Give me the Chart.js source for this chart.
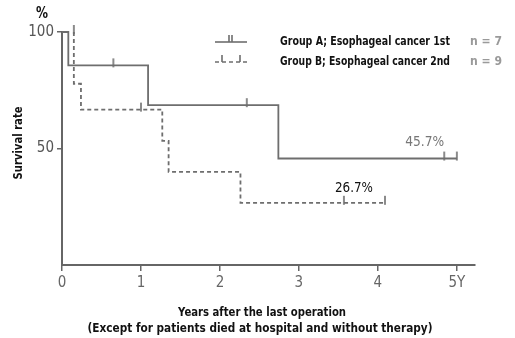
<!DOCTYPE html>
<html>
<head>
<meta charset="utf-8">
<script src="https://cdn.jsdelivr.net/npm/chart.js@4/dist/chart.umd.min.js"></script>
<style>
  html, body { margin: 0; padding: 0; background: #fff; }
  #wrap { width: 515px; height: 338px; }
</style>
</head>
<body>
<div id="wrap"><canvas id="c" width="515" height="338"></canvas></div>
<script>
// Survival curves after the last operation (years, % surviving)
const groupATimes  = [0, 0.08, 1.09, 2.74, 5.0];
const groupAValues = [100, 85.7, 68.6, 45.7, 45.7];
const groupACensorTimes  = [0.65, 2.34, 4.84, 5.0];
const groupACensorValues = [85.7, 68.6, 45.7, 45.7];

const groupBTimes  = [0.15, 0.15, 0.24, 1.27, 1.35, 2.26, 4.09];
const groupBValues = [100, 77.8, 66.7, 53.3, 40.0, 26.7, 26.7];
const groupBCensorTimes  = [0.15, 1.0, 3.57, 4.09];
const groupBCensorValues = [100, 66.7, 26.7, 26.7];

const xTickLabels = ['0', '1', '2', '3', '4', '5Y'];
const yTickValues = [50, 100];
const legendLabels = ['Group A; Esophageal cancer 1st', 'Group B; Esophageal cancer 2nd'];
const groupSizes = ['n = 7', 'n = 9'];

const LINE = '#6e6e6e';
const AXIS = '#666';
const CONDENSED = "'DejaVu Sans Condensed', 'Liberation Sans Narrow', 'DejaVu Sans', sans-serif";
const BOLD = "bold 12px 'DejaVu Sans', sans-serif";

function toPoints(xs, ys) { return xs.map((x, i) => ({ x, y: ys[i] })); }

// small upward tick used to mark censored cases
function censorMark(color) {
  const c = document.createElement('canvas');
  c.width = 4; c.height = 20;
  const g = c.getContext('2d');
  g.strokeStyle = color; g.lineWidth = 1.6;
  g.beginPath(); g.moveTo(2, 3); g.lineTo(2, 12); g.stroke();
  return c;
}
const tick = censorMark(LINE);

// text squeezed to a given width, for the narrow lettering of the figure
function fitText(ctx, text, x, y, width, font, color, align, rotate) {
  ctx.save();
  ctx.font = font;
  ctx.fillStyle = color;
  ctx.textBaseline = 'middle';
  ctx.textAlign = 'left';
  const w = ctx.measureText(text).width;
  const k = width / w;
  ctx.translate(x, y);
  if (rotate) ctx.rotate(rotate);
  let x0 = 0;
  if (align === 'center') x0 = -width / 2;
  else if (align === 'right') x0 = -width;
  ctx.translate(x0, 0);
  ctx.scale(k, 1);
  ctx.fillText(text, 0, 0);
  ctx.restore();
}

const annotations = {
  id: 'annotations',
  afterDraw(chart) {
    const ctx = chart.ctx;
    const xs = chart.scales.x, ys = chart.scales.y;

    // unit above the y axis and the rotated axis title
    fitText(ctx, '%', 42, 14, 12, "bold 16px 'DejaVu Sans', sans-serif", '#111', 'center');
    fitText(ctx, 'Survival rate', 19, 143, 73, BOLD, '#111', 'center', -Math.PI / 2);

    // x axis title, two lines
    fitText(ctx, 'Years after the last operation', 262, 313, 168, BOLD, '#111', 'center');
    fitText(ctx, '(Except for patients died at hospital and without therapy)', 260, 329, 345, BOLD, '#111', 'center');

    // legend: line samples with censor ticks
    ctx.save();
    ctx.strokeStyle = LINE; ctx.lineWidth = 1.6;
    ctx.beginPath(); ctx.moveTo(215, 42); ctx.lineTo(247, 42); ctx.stroke();
    ctx.beginPath(); ctx.moveTo(229, 35); ctx.lineTo(229, 42); ctx.moveTo(232, 35); ctx.lineTo(232, 42); ctx.stroke();
    ctx.setLineDash([4, 3]);
    ctx.beginPath(); ctx.moveTo(215, 62); ctx.lineTo(247, 62); ctx.stroke();
    ctx.setLineDash([]);
    ctx.beginPath(); ctx.moveTo(222, 55); ctx.lineTo(222, 62); ctx.moveTo(240, 55); ctx.lineTo(240, 62); ctx.stroke();
    ctx.restore();
    fitText(ctx, legendLabels[0], 280, 42, 170, BOLD, '#111', 'left');
    fitText(ctx, legendLabels[1], 280, 62, 170, BOLD, '#111', 'left');
    ctx.save(); ctx.filter = 'blur(0.6px)';
    fitText(ctx, groupSizes[0], 470, 42, 32, BOLD, '#9a9a9a', 'left');
    fitText(ctx, groupSizes[1], 470, 62, 32, BOLD, '#9a9a9a', 'left');
    ctx.restore();

    // final survival rates written above the curve tails
    const aLast = groupAValues[groupAValues.length - 1];
    const bLast = groupBValues[groupBValues.length - 1];
    const aX = xs.getPixelForValue(groupACensorTimes[groupACensorTimes.length - 2]);
    const bX = xs.getPixelForValue(groupBCensorTimes[groupBCensorTimes.length - 2]);
    fitText(ctx, aLast.toFixed(1) + '%', aX, ys.getPixelForValue(aLast) - 16, 39,
      "14px 'DejaVu Sans', sans-serif", '#777', 'right');
    fitText(ctx, bLast.toFixed(1) + '%', bX + 10, ys.getPixelForValue(bLast) - 14, 38,
      "14px 'DejaVu Sans', sans-serif", '#111', 'center');
  }
};

new Chart(document.getElementById('c'), {
  type: 'line',
  data: {
    datasets: [
      {
        label: legendLabels[0],
        data: toPoints(groupATimes, groupAValues),
        borderColor: LINE, borderWidth: 1.8, stepped: true,
        pointRadius: 0, fill: false, clip: false
      },
      {
        label: legendLabels[1],
        data: toPoints(groupBTimes, groupBValues),
        borderColor: LINE, borderWidth: 1.8, borderDash: [4, 3], stepped: true,
        pointRadius: 0, fill: false, clip: false
      },
      {
        type: 'scatter',
        data: toPoints(groupACensorTimes, groupACensorValues),
        pointStyle: tick, pointRadius: 5, clip: false, showLine: false
      },
      {
        type: 'scatter',
        data: toPoints(groupBCensorTimes, groupBCensorValues),
        pointStyle: tick, pointRadius: 5, clip: false, showLine: false
      }
    ]
  },
  options: {
    responsive: false,
    animation: false,
    devicePixelRatio: 1,
    layout: { padding: { top: 32, right: 40, left: 0, bottom: 0 } },
    plugins: { legend: { display: false }, tooltip: { enabled: false } },
    scales: {
      x: {
        type: 'linear', position: 'bottom', min: 0, max: 5.23,
        afterBuildTicks: s => { s.ticks = xTickLabels.map((_, i) => ({ value: i })); },
        afterFit: s => { s.height = 73; },
        ticks: {
          autoSkip: false, maxRotation: 0, padding: 3, color: '#666',
          font: { family: CONDENSED, size: 15 },
          callback: (v, i) => xTickLabels[i]
        },
        grid: { display: true, drawOnChartArea: false, drawTicks: true, tickLength: 6, color: AXIS, lineWidth: 1.5 },
        border: { display: true, color: AXIS, width: 2 }
      },
      y: {
        min: 0, max: 100,
        afterBuildTicks: s => { s.ticks = yTickValues.map(v => ({ value: v })); },
        afterFit: s => { s.width = 62; },
        ticks: {
          padding: 3, color: '#555',
          font: { family: CONDENSED, size: 15 }
        },
        grid: { display: true, drawOnChartArea: false, drawTicks: true, tickLength: 5, color: AXIS, lineWidth: 1.5 },
        border: { display: true, color: AXIS, width: 2 }
      }
    }
  },
  plugins: [annotations]
});
</script>
</body>
</html>
